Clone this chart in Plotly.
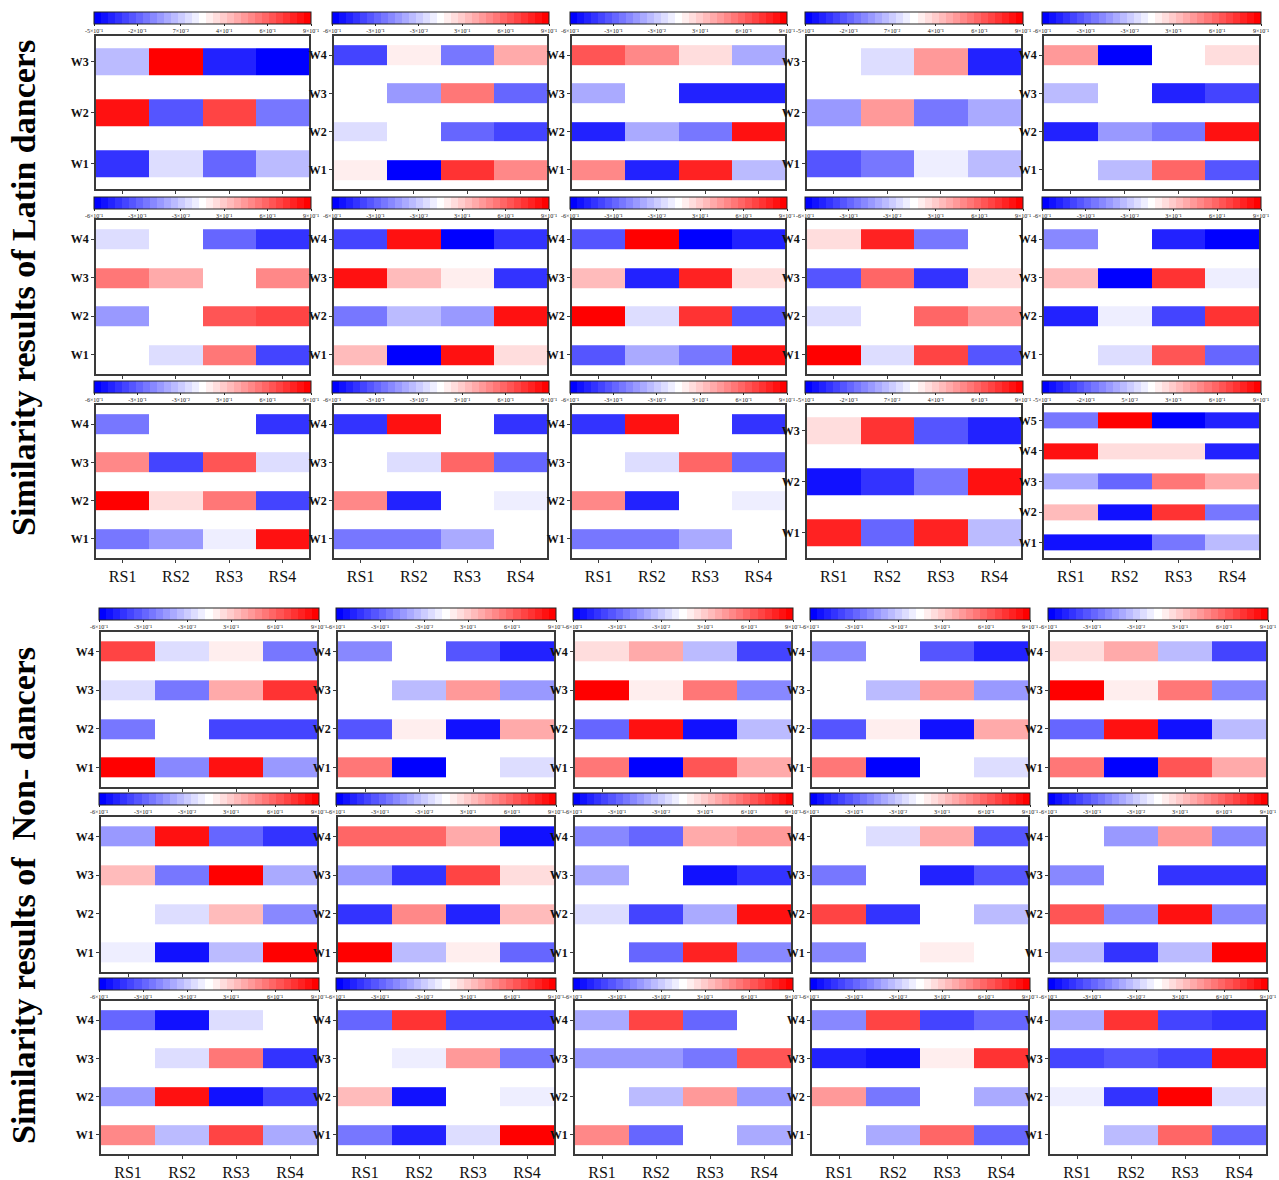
import plotly.graph_objects as go

# ---------------------------------------------------------------------------
# Labels
# ---------------------------------------------------------------------------
W_LABELS = ["W1", "W2", "W3", "W4", "W5"]
RS_LABELS = ["RS1", "RS2", "RS3", "RS4"]

# colour-bar tick texts (equally spaced along each bar)
TICKS_A = ["-6×10⁻¹", "-3×10⁻¹", "-3×10⁻²", "3×10⁻¹", "6×10⁻¹", "9×10⁻¹"]
TICKS_B = ["-5×10⁻¹", "-2×10⁻¹", "7×10⁻²", "4×10⁻¹", "6×10⁻¹", "9×10⁻¹"]
TICKS_C = ["-5×10⁻¹", "-2×10⁻¹", "5×10⁻²", "3×10⁻¹", "6×10⁻¹", "9×10⁻¹"]
RANGE_A = (-0.6, 0.9)
RANGE_B = (-0.5, 0.9)

# ---------------------------------------------------------------------------
# Similarity values, rows listed W1 (bottom) upwards, columns RS1..RS4
# ---------------------------------------------------------------------------
# Latin dancers, row 1
latin_1_1 = [[-0.32, 0.13, -0.21, 0.03], [0.83, -0.25, 0.70, -0.15], [0.03, 0.90, -0.40, -0.50]]
latin_1_2 = [[0.18, -0.60, 0.75, 0.50], [0.075, 0.15, -0.285, -0.405], [0.15, -0.135, 0.525, -0.285], [-0.405, 0.18, -0.225, 0.375]]
latin_1_3 = [[0.495, -0.495, 0.78, -0.03], [-0.48, -0.075, -0.225, 0.825], [-0.075, 0.15, -0.495, -0.495], [0.645, 0.495, 0.27, -0.075]]
latin_1_4 = [[-0.25, -0.15, 0.17, 0.03], [-0.07, 0.47, -0.15, -0.01], [0.20, 0.09, 0.47, -0.40]]
latin_1_5 = [[0.15, -0.03, 0.60, -0.33], [-0.495, -0.135, -0.225, 0.825], [-0.03, 0.15, -0.48, -0.405], [0.435, -0.60, 0.15, 0.27]]
# Latin dancers, row 2
latin_2_1 = [[0.15, 0.075, 0.525, -0.405], [-0.135, 0.15, 0.645, 0.69], [0.525, 0.375, 0.15, 0.495], [0.075, 0.15, -0.285, -0.45]]
latin_2_2 = [[0.33, -0.60, 0.825, 0.27], [-0.225, -0.03, -0.135, 0.825], [0.825, 0.33, 0.18, -0.45], [-0.405, 0.825, -0.60, -0.45]]
latin_2_3 = [[-0.33, -0.075, -0.225, 0.81], [0.90, 0.03, 0.75, -0.33], [0.33, -0.495, 0.78, 0.225], [-0.33, 0.90, -0.60, -0.495]]
latin_2_4 = [[0.90, 0.03, 0.69, -0.33], [0.075, 0.15, 0.57, 0.435], [-0.33, 0.57, -0.45, 0.27], [0.27, 0.78, -0.225, 0.15]]
latin_2_5 = [[0.15, 0.075, 0.645, -0.285], [-0.495, 0.12, -0.405, 0.75], [0.33, -0.60, 0.75, 0.12], [-0.18, 0.15, -0.495, -0.60]]
# Latin dancers, row 3
latin_3_1 = [[-0.225, -0.135, 0.12, 0.825], [0.90, 0.225, 0.525, -0.405], [0.495, -0.405, 0.645, 0.03], [-0.225, 0.15, 0.15, -0.45]]
latin_3_2 = [[-0.225, -0.225, -0.075, 0.15], [0.495, -0.495, 0.15, 0.12], [0.15, 0.03, 0.57, -0.285], [-0.45, 0.825, 0.15, -0.45]]
latin_3_3 = [[-0.225, -0.225, -0.075, 0.15], [0.495, -0.495, 0.15, 0.12], [0.15, 0.03, 0.57, -0.285], [-0.45, 0.825, 0.15, -0.45]]
latin_3_4 = [[0.79, -0.21, 0.79, 0.03], [-0.44, -0.36, -0.15, 0.83], [0.27, 0.76, -0.25, -0.40]]
latin_3_5 = [[-0.44, -0.44, -0.15, 0.03], [0.37, -0.44, 0.76, -0.15], [-0.01, -0.21, 0.55, 0.41], [0.83, 0.27, 0.27, -0.40], [-0.15, 0.90, -0.50, -0.40]]
# Non-dancers, row 1
non_1_1 = [[0.90, -0.18, 0.825, -0.135], [-0.225, 0.15, -0.405, -0.405], [0.075, -0.225, 0.375, 0.75], [0.69, 0.03, 0.18, -0.225]]
non_1_2 = [[0.525, -0.60, 0.15, 0.075], [-0.33, 0.18, -0.54, 0.375], [0.15, -0.03, 0.435, -0.135], [-0.18, 0.15, -0.33, -0.495]]
non_1_3 = [[0.525, -0.60, 0.645, 0.375], [-0.285, 0.825, -0.54, -0.03], [0.90, 0.18, 0.525, -0.18], [0.27, 0.375, -0.03, -0.405]]
non_1_4 = [[0.525, -0.60, 0.15, 0.075], [-0.33, 0.18, -0.54, 0.375], [0.15, -0.03, 0.435, -0.135], [-0.18, 0.15, -0.33, -0.495]]
non_1_5 = [[0.525, -0.60, 0.645, 0.375], [-0.285, 0.825, -0.54, -0.03], [0.90, 0.18, 0.525, -0.18], [0.27, 0.375, -0.03, -0.405]]
# Non-dancers, row 2
non_2_1 = [[0.12, -0.54, -0.03, 0.90], [0.15, 0.03, 0.33, -0.18], [0.33, -0.225, 0.90, -0.075], [-0.135, 0.825, -0.285, -0.45]]
non_2_2 = [[0.90, -0.03, 0.18, -0.285], [-0.45, 0.495, -0.48, 0.33], [-0.135, -0.45, 0.69, 0.27], [0.57, 0.57, 0.375, -0.54]]
non_2_3 = [[0.15, -0.285, 0.78, -0.18], [0.075, -0.405, -0.075, 0.825], [-0.075, 0.15, -0.54, -0.45], [-0.18, -0.285, 0.375, 0.435]]
non_2_4 = [[-0.18, 0.15, 0.18, 0.15], [0.69, -0.45, 0.15, -0.03], [-0.225, 0.15, -0.48, -0.33], [0.15, 0.075, 0.375, -0.33]]
non_2_5 = [[-0.03, -0.45, -0.03, 0.90], [0.645, -0.18, 0.825, -0.18], [-0.18, 0.15, -0.45, -0.45], [0.15, -0.135, 0.435, -0.18]]
# Non-dancers, row 3
non_3_1 = [[0.495, -0.03, 0.69, -0.075], [-0.135, 0.825, -0.54, -0.405], [0.15, 0.03, 0.525, -0.45], [-0.285, -0.54, 0.075, 0.15]]
non_3_2 = [[-0.225, -0.495, 0.03, 0.90], [0.33, -0.54, 0.15, 0.12], [0.15, 0.12, 0.435, -0.225], [-0.285, 0.75, -0.405, -0.405]]
non_3_3 = [[0.495, -0.285, 0.15, -0.075], [0.15, -0.03, 0.435, -0.135], [-0.135, -0.135, -0.225, 0.645], [-0.075, 0.69, -0.285, 0.15]]
non_3_4 = [[0.15, -0.075, 0.57, -0.285], [0.435, -0.225, 0.15, -0.075], [-0.495, -0.54, 0.18, 0.75], [-0.18, 0.69, -0.405, -0.285]]
non_3_5 = [[0.15, -0.03, 0.57, -0.285], [0.12, -0.45, 0.90, 0.075], [-0.405, -0.33, -0.405, 0.825], [-0.075, 0.75, -0.405, -0.45]]

PANELS = [
    [(latin_1_1, RANGE_B, TICKS_B), (latin_1_2, RANGE_A, TICKS_A), (latin_1_3, RANGE_A, TICKS_A),
     (latin_1_4, RANGE_B, TICKS_B), (latin_1_5, RANGE_A, TICKS_A)],
    [(latin_2_1, RANGE_A, TICKS_A), (latin_2_2, RANGE_A, TICKS_A), (latin_2_3, RANGE_A, TICKS_A),
     (latin_2_4, RANGE_A, TICKS_A), (latin_2_5, RANGE_A, TICKS_A)],
    [(latin_3_1, RANGE_A, TICKS_A), (latin_3_2, RANGE_A, TICKS_A), (latin_3_3, RANGE_A, TICKS_A),
     (latin_3_4, RANGE_B, TICKS_B), (latin_3_5, RANGE_B, TICKS_C)],
    [(non_1_1, RANGE_A, TICKS_A), (non_1_2, RANGE_A, TICKS_A), (non_1_3, RANGE_A, TICKS_A),
     (non_1_4, RANGE_A, TICKS_A), (non_1_5, RANGE_A, TICKS_A)],
    [(non_2_1, RANGE_A, TICKS_A), (non_2_2, RANGE_A, TICKS_A), (non_2_3, RANGE_A, TICKS_A),
     (non_2_4, RANGE_A, TICKS_A), (non_2_5, RANGE_A, TICKS_A)],
    [(non_3_1, RANGE_A, TICKS_A), (non_3_2, RANGE_A, TICKS_A), (non_3_3, RANGE_A, TICKS_A),
     (non_3_4, RANGE_A, TICKS_A), (non_3_5, RANGE_A, TICKS_A)],
]

# ---------------------------------------------------------------------------
# Page geometry (pixels)
# ---------------------------------------------------------------------------
FIG_W, FIG_H = 1279, 1180
LATIN_COLS = [(96, 309), (334, 547), (572, 785), (807, 1021), (1044, 1259)]
NON_COLS = [(101, 317), (338, 554), (575, 791), (812, 1028), (1050, 1266)]
# (plot top, plot bottom, colour-bar top)
ROW_GEOM = [(36, 189, 12), (220, 374, 197), (405, 558, 381),
            (632, 787, 608), (817, 972, 793), (1001, 1154, 978)]
BAR_HALF = 0.26
FRAME = "#3a3a3a"
SERIF = "Liberation Serif"


def stepped_scale(n=31):
    """Discrete blue-white-red colour scale with n flat steps."""
    cols = []
    for k in range(n):
        t = k / (n - 1)
        if t <= 0.5:
            v = round(255 * t / 0.5)
            c = f"rgb({v},{v},255)"
        else:
            v = round(255 * (1 - t) / 0.5)
            c = f"rgb(255,{v},{v})"
        cols.append(c)
    scale = []
    for k, c in enumerate(cols):
        scale.append([k / n, c])
        scale.append([(k + 1) / n, c])
    return scale


SCALE = stepped_scale()

fig = go.Figure()
layout = {}
idx = 0
for r, row in enumerate(PANELS):
    top, bottom, cb_top = ROW_GEOM[r]
    cols = LATIN_COLS if r < 3 else NON_COLS
    bottom_row = r in (2, 5)
    for c, (vals, (vmin, vmax), ticks) in enumerate(row):
        idx += 1
        x0, x1 = cols[c]
        n = len(vals)
        # bars with blank gaps between the W rows
        z, y_edges = [], []
        for i, rowvals in enumerate(vals):
            if i > 0:
                z.append([None] * 4)
            z.append(rowvals)
            y_edges += [i + 1 - BAR_HALF, i + 1 + BAR_HALF]
        step = (vmax - vmin) / 5
        fig.add_trace(go.Heatmap(
            z=z, x=[0.5, 1.5, 2.5, 3.5, 4.5], y=y_edges,
            zmin=vmin, zmax=vmax, colorscale=SCALE,
            xaxis=f"x{idx}", yaxis=f"y{idx}", hoverongaps=False,
            colorbar=dict(
                orientation="h", x=(x0 + x1) / 2 / FIG_W, xanchor="center",
                y=1 - cb_top / FIG_H, yanchor="top",
                thickness=12, lenmode="pixels", len=(x1 - x0) + 4,
                xpad=0, ypad=0, outlinewidth=1, outlinecolor="#222",
                tickmode="array", tickvals=[vmin + k * step for k in range(6)],
                ticktext=ticks, ticks="outside", ticklen=2, tickwidth=1,
                tickcolor="#222",
                tickfont=dict(family=SERIF, size=6, color="#111"),
            ),
        ))
        sfx = "" if idx == 1 else str(idx)
        layout[f"xaxis{sfx}"] = dict(
            domain=[x0 / FIG_W, x1 / FIG_W], anchor=f"y{idx}",
            range=[0.5, 4.5], tickmode="array", tickvals=[1, 2, 3, 4],
            ticktext=RS_LABELS if bottom_row else ["", "", "", ""],
            ticks="outside", ticklen=3, tickwidth=1, tickcolor=FRAME,
            tickfont=dict(family=SERIF, size=16, color="#111"),
            showgrid=False, zeroline=False, showline=True, mirror=True,
            linecolor=FRAME, linewidth=1.5, fixedrange=True,
        )
        layout[f"yaxis{sfx}"] = dict(
            domain=[1 - bottom / FIG_H, 1 - top / FIG_H], anchor=f"x{idx}",
            range=[0.5, n + 0.5], tickmode="array",
            tickvals=list(range(1, n + 1)), ticktext=W_LABELS[:n],
            ticks="outside", ticklen=3, tickwidth=1, tickcolor=FRAME,
            tickfont=dict(family=SERIF, size=12, color="#111", weight="bold"),
            showgrid=False, zeroline=False, showline=True, mirror=True,
            linecolor=FRAME, linewidth=1.5, fixedrange=True,
        )

fig.update_layout(
    **layout,
    width=FIG_W, height=FIG_H,
    margin=dict(l=0, r=0, t=0, b=0),
    paper_bgcolor="white", plot_bgcolor="white",
    showlegend=False,
    annotations=[
        dict(text="Similarity results of Latin dancers", textangle=-90,
             x=23 / FIG_W, y=1 - 288 / FIG_H, xref="paper", yref="paper",
             showarrow=False, xanchor="center", yanchor="middle",
             font=dict(family=SERIF, size=34, color="#000", weight="bold")),
        dict(text="Similarity results of \u00a0Non- dancers", textangle=-90,
             x=23 / FIG_W, y=1 - 896 / FIG_H, xref="paper", yref="paper",
             showarrow=False, xanchor="center", yanchor="middle",
             font=dict(family=SERIF, size=34, color="#000", weight="bold")),
    ],
)

fig.write_html("out.html")
